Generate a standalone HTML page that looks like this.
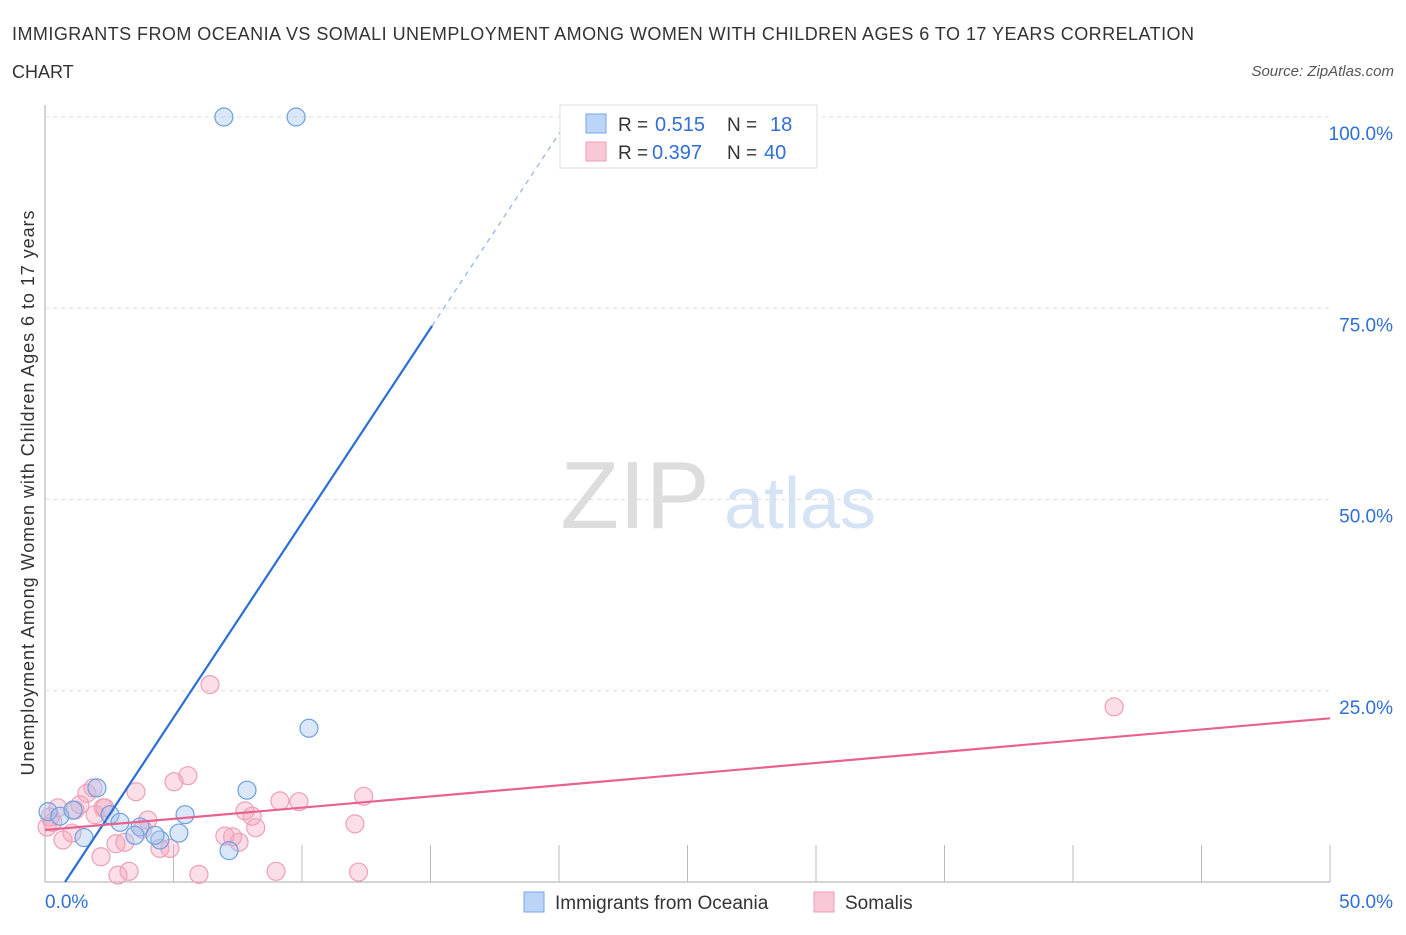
<!DOCTYPE html>
<html><head><meta charset="utf-8"><style>
body{margin:0;background:#fff;font-family:"Liberation Sans",sans-serif}
svg text{font-family:"Liberation Sans",sans-serif}
</style></head><body>
<svg width="1406" height="930" id="c">
<text x="12" y="40" font-size="18" fill="#333" textLength="1182">IMMIGRANTS FROM OCEANIA VS SOMALI UNEMPLOYMENT AMONG WOMEN WITH CHILDREN AGES 6 TO 17 YEARS CORRELATION</text>
<text x="12" y="78" font-size="18" fill="#333">CHART</text>
<text x="1394" y="76" font-size="15" fill="#555" font-style="italic" text-anchor="end">Source: ZipAtlas.com</text>
<text x="635" y="528" font-size="96" fill="#ddd" font-family="Liberation Serif" text-anchor="middle">ZIP</text>
<text x="800" y="528" font-size="72" fill="#d5e3f5" text-anchor="middle">atlas</text>
<text transform="translate(34,493) rotate(-90)" font-size="18" fill="#333" text-anchor="middle" textLength="565">Unemployment Among Women with Children Ages 6 to 17 years</text>
<g id="grid"></g><g id="pts"></g><g id="lines"></g>
<g>
<rect x="560" y="105" width="257" height="63" fill="#fff" stroke="#ddd"/>
<rect x="586" y="114" width="20" height="19" fill="#bcd4f7" stroke="#7aa7e8"/>
<text x="618" y="131" font-size="19" fill="#333">R =</text>
<text x="655" y="131" font-size="20" fill="#2f6fd6">0.515</text>
<text x="727" y="131" font-size="19" fill="#333">N =</text>
<text x="770" y="131" font-size="20" fill="#2f6fd6">18</text>
<rect x="586" y="142" width="20" height="19" fill="#f9c8d6" stroke="#ee9bb3"/>
<text x="618" y="159" font-size="19" fill="#333">R =</text>
<text x="652" y="159" font-size="20" fill="#2f6fd6">0.397</text>
<text x="727" y="159" font-size="19" fill="#333">N =</text>
<text x="764" y="159" font-size="20" fill="#2f6fd6">40</text>
</g>
<g>
<rect x="524" y="892" width="20" height="20" fill="#bcd4f7" stroke="#7aa7e8"/>
<text x="555" y="909" font-size="19" fill="#333">Immigrants from Oceania</text>
<rect x="814" y="892" width="20" height="20" fill="#f9c8d6" stroke="#ee9bb3"/>
<text x="845" y="909" font-size="19" fill="#333">Somalis</text>
</g>
</svg>
<script>
const yTicks=[25,50,75,100];
const yTickLabels=["25.0%","50.0%","75.0%","100.0%"];
const xTickLabels=["0.0%","50.0%"];
const blueX=[6.96,9.77,10.27,7.86,5.45,2.02,0.12,0.58,1.09,2.53,2.92,3.70,3.50,4.47,5.21,7.16,1.52,4.28];
const blueY=[100,100,20.1,12.0,8.8,12.3,9.2,8.6,9.4,8.8,7.8,7.2,6.1,5.5,6.4,4.1,5.8,6.1];
const pinkX=[6.42,41.6,5.56,5.02,3.54,12.4,9.14,9.88,1.63,1.36,2.26,1.17,7.78,8.06,4.0,8.2,7.0,7.3,7.55,12.06,2.76,3.11,2.18,2.84,3.27,5.99,8.99,12.2,4.47,4.86,0.7,1.05,1.95,2.33,0.2,0.08,0.5,1.87,0.3,3.8];
const pinkY=[25.8,22.9,13.9,13.1,11.8,11.2,10.6,10.5,11.6,10.1,9.7,9.4,9.3,8.6,8.1,7.1,6.0,5.9,5.2,7.6,5.0,5.2,3.3,0.9,1.4,1.0,1.4,1.3,4.4,4.4,5.5,6.4,8.8,9.7,8.5,7.2,9.7,12.3,7.8,6.9];
const blueFit=[-3.97,5.09];
const pinkFit=[6.8,0.292];
const X=v=>45+v*25.7, Y=v=>882-v*7.65;
const NS="http://www.w3.org/2000/svg";
function mk(t,a,p){const e=document.createElementNS(NS,t);for(const k in a)e.setAttribute(k,a[k]);p.appendChild(e);return e;}
const g=document.getElementById('grid');
const ax=mk('line',{x1:45,y1:105,x2:45,y2:882,stroke:'#aaa','stroke-width':1},g);


const bx=mk('line',{x1:45,y1:882,x2:1330,y2:882,stroke:'#aaa','stroke-width':1},g);


yTicks.forEach((t,i)=>{
 const l=mk('line',{x1:45,y1:Y(t),x2:1330,y2:Y(t),stroke:'#ddd','stroke-dasharray':'4,4'},g);
 
 
 const tx=mk('text',{x:1393,y:Y(t)+23,'font-size':19,fill:'#2f6fd6','text-anchor':'end'},g);
 tx.textContent=yTickLabels[i];
 
 
});
for(let i=1;i<=10;i++){const l=mk('line',{x1:45+i*128.5,y1:845,x2:45+i*128.5,y2:882,stroke:'#bbb'},g);
 
 }
const t0=mk('text',{x:45,y:908,'font-size':19,fill:'#2f6fd6'},g);t0.textContent=xTickLabels[0];


const t1=mk('text',{x:1393,y:908,'font-size':19,fill:'#2f6fd6','text-anchor':'end'},g);t1.textContent=xTickLabels[1];


const p=document.getElementById('pts');
pinkX.forEach((x,i)=>{const c=mk('circle',{cx:X(x),cy:Y(pinkY[i]),r:9,fill:'rgba(244,160,185,0.35)',stroke:'#eea0b6','stroke-width':1.2},p);
 
 });
blueX.forEach((x,i)=>{const c=mk('circle',{cx:X(x),cy:Y(blueY[i]),r:9,fill:'rgba(160,195,240,0.4)',stroke:'#6e9fe0','stroke-width':1.2},p);
 
 });
const L=document.getElementById('lines');
const bx0=-blueFit[0]/blueFit[1], bxs=(72.7-blueFit[0])/blueFit[1], bxe=(100-blueFit[0])/blueFit[1];
const b1=mk('line',{x1:X(bx0),y1:Y(0),x2:X(bxs),y2:Y(72.7),stroke:'#2a6fd6','stroke-width':2.2},L);


const b2=mk('line',{x1:X(bxs),y1:Y(72.7),x2:X(bxe),y2:Y(100),stroke:'#8fb0e6','stroke-width':1.2,'stroke-dasharray':'5,5'},L);


const pl=mk('line',{x1:X(0),y1:Y(pinkFit[0]),x2:X(50),y2:Y(pinkFit[0]+50*pinkFit[1]),stroke:'#e8628f','stroke-width':2.2},L);


</script>
</body></html>
